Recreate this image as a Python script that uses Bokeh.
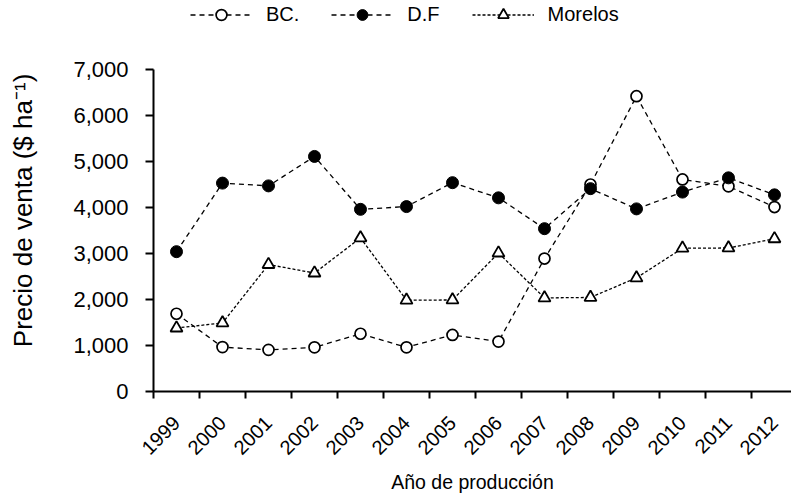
import math
from bokeh.plotting import figure
from bokeh.models import FixedTicker, Range1d, Legend, LegendItem, NumeralTickFormatter
from bokeh.embed import file_html
from bokeh.resources import INLINE

years = ["1999", "2000", "2001", "2002", "2003", "2004", "2005",
         "2006", "2007", "2008", "2009", "2010", "2011", "2012"]
bc = [1690, 965, 905, 960, 1255, 960, 1230, 1085, 2890, 4500, 6420, 4610, 4460, 4010]
df = [3040, 4530, 4470, 5110, 3960, 4020, 4540, 4210, 3540, 4410, 3970, 4335, 4645, 4275]
morelos = [1380, 1490, 2760, 2575, 3340, 1985, 1990, 3010, 2035, 2045, 2470, 3115, 3120, 3320]
y_ticks = [0, 1000, 2000, 3000, 4000, 5000, 6000, 7000]

FONT = "Liberation Sans"
n = len(years)
xs = [i + 0.5 for i in range(n)]

# frame extends to the top of the canvas (room for the legend); axis drawn 0..7000 only
p = figure(width=791, height=500, x_range=Range1d(0, 13.87), y_range=Range1d(0, 8500),
           output_backend="svg", toolbar_location=None,
           min_border_left=153, min_border_right=0, min_border_top=0, min_border_bottom=109)
p.outline_line_color = None
p.xgrid.visible = False
p.ygrid.visible = False
p.background_fill_color = "white"
p.border_fill_color = "white"

l1 = p.line(xs, bc, line_color="black", line_width=1.3, line_dash="5 4")
l2 = p.line(xs, df, line_color="black", line_width=1.3, line_dash="5 4")
l3 = p.line(xs, morelos, line_color="black", line_width=1.3, line_dash="3 2")
s1 = p.scatter(xs, bc, marker="circle", size=11, fill_color="white", line_color="black", line_width=1.7)
s2 = p.scatter(xs, df, marker="circle", size=12, fill_color="black", line_color="black", line_width=1)
s3 = p.scatter(xs, morelos, marker="triangle", size=12, fill_color="white", line_color="black", line_width=1.8)

# x axis: labels at category centres, tick marks between categories
p.xaxis.ticker = FixedTicker(ticks=xs, minor_ticks=list(range(n + 1)))
p.xaxis.major_label_overrides = {x: y for x, y in zip(xs, years)}
p.xaxis.major_label_orientation = math.pi / 4
p.xaxis.major_tick_line_color = None
p.xaxis.major_tick_out = 7
p.xaxis.major_tick_in = 0
p.xaxis.minor_tick_line_color = "black"
p.xaxis.minor_tick_line_width = 2
p.xaxis.minor_tick_out = 7
p.xaxis.minor_tick_in = 0
p.xaxis.major_label_standoff = 21
p.xaxis.major_label_text_font_size = "20px"
p.xaxis.axis_label = "Año de producción"
p.xaxis.axis_label_standoff = 7
p.xaxis.axis_label_text_font_size = "19.5px"

p.yaxis.ticker = FixedTicker(ticks=y_ticks)
p.yaxis.bounds = (0, 7000)
p.yaxis.formatter = NumeralTickFormatter(format="0,0")
p.yaxis.major_tick_out = 8
p.yaxis.major_tick_in = 0
p.yaxis.minor_tick_line_color = None
p.yaxis.major_tick_line_width = 2
p.yaxis.major_label_standoff = 17
p.yaxis.major_label_text_font_size = "22px"
p.yaxis.axis_label = "Precio de venta ($ ha⁻¹)" + "\u00a0" * 4
p.yaxis.axis_label_standoff = 32
p.yaxis.axis_label_text_font_size = "26px"

for ax in (p.xaxis, p.yaxis):
    ax.axis_line_width = 2
    ax.axis_line_color = "black"
    ax.major_label_text_font = FONT
    ax.major_label_text_color = "black"
    ax.axis_label_text_font = FONT
    ax.axis_label_text_font_style = "normal"
    ax.axis_label_text_color = "black"

legend = Legend(items=[LegendItem(label="BC.", renderers=[l1, s1]),
                       LegendItem(label="D.F", renderers=[l2, s2]),
                       LegendItem(label="Morelos", renderers=[l3, s3])],
                orientation="horizontal", location=(37, 363),
                glyph_width=62, glyph_height=27, label_height=27,
                label_standoff=14, spacing=32, padding=0, margin=0,
                border_line_color=None, background_fill_alpha=0,
                label_text_font=FONT, label_text_font_size="20px",
                label_text_color="black")
p.add_layout(legend)

open("out.html", "w").write(file_html(p, INLINE))
